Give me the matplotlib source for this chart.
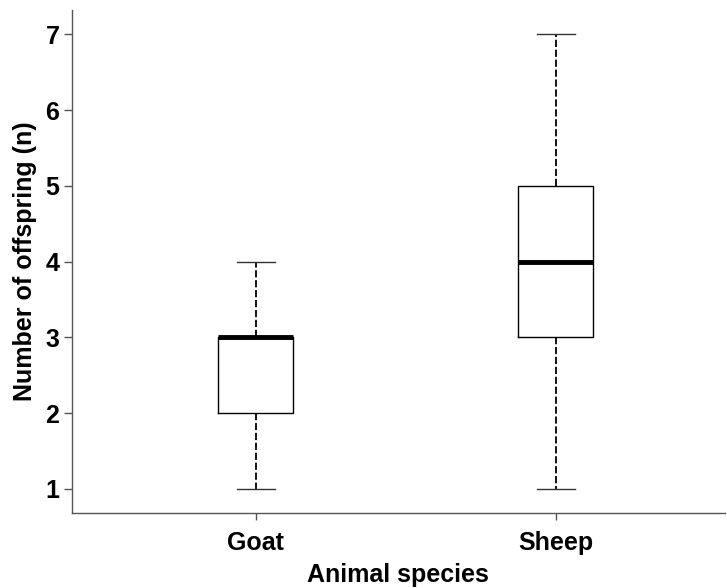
import matplotlib
matplotlib.use("Agg")
import matplotlib.pyplot as plt

categories = ["Goat", "Sheep"]
whisker_low = [1, 1]
q1 = [2, 3]
median = [3, 4]
q3 = [3, 5]
whisker_high = [4, 7]
yticks = [1, 2, 3, 4, 5, 6, 7]

plt.rcParams['font.family'] = ['Liberation Sans', 'DejaVu Sans']

fig = plt.figure(figsize=(7.27, 5.88), dpi=100)
ax = fig.add_axes([0.099, 0.1276, 0.898, 0.855])

stats = []
for i, c in enumerate(categories):
    stats.append(dict(label=c, whislo=whisker_low[i], q1=q1[i], med=median[i],
                      q3=q3[i], whishi=whisker_high[i], fliers=[]))

ax.bxp(stats, positions=[1, 2], widths=0.25, showfliers=False,
       boxprops=dict(color='black', linewidth=1.0),
       medianprops=dict(color='black', linewidth=3.5, solid_capstyle='butt'),
       whiskerprops=dict(color='black', linewidth=1.3, linestyle=(0, (4, 1.5))),
       capprops=dict(color='#333333', linewidth=1.0),
       capwidths=0.125)

ax.set_xlim(0.387, 2.563)
ax.set_ylim(0.683, 7.317)
ax.set_yticks(yticks)
ax.set_xticks([1, 2])
ax.set_xticklabels(categories)

for s in ['top', 'right']:
    ax.spines[s].set_visible(False)
for s in ['left', 'bottom']:
    ax.spines[s].set_color('#555555')
    ax.spines[s].set_linewidth(1.0)
ax.tick_params(axis='y', colors='#555555', length=6, width=1.0, labelcolor='black', pad=3)
ax.tick_params(axis='x', colors='#555555', length=5, width=1.0, labelcolor='black', pad=8)
for lbl in ax.get_yticklabels() + ax.get_xticklabels():
    lbl.set_fontweight('bold')
    lbl.set_fontsize(18)

ax.set_ylabel("Number of offspring (n)", fontsize=18, fontweight='bold', labelpad=6)
ax.set_xlabel("Animal species", fontsize=18, fontweight='bold', labelpad=6)

fig.savefig("out.png", dpi=100)
